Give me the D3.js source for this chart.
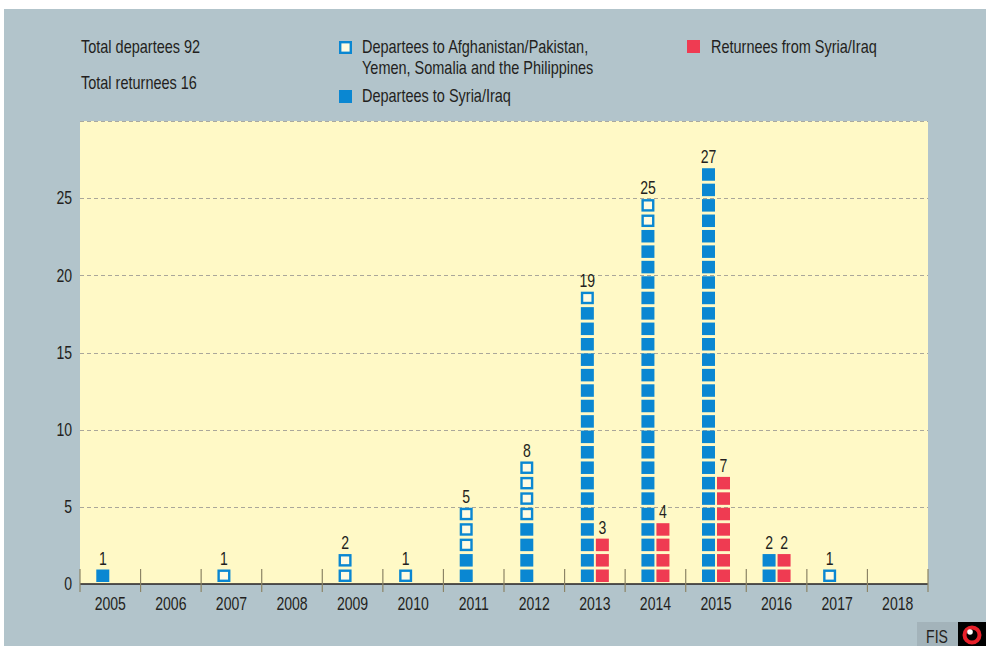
<!DOCTYPE html>
<html>
<head>
<meta charset="utf-8">
<script src="https://cdn.jsdelivr.net/npm/d3@7"></script>
<style>
  html, body { margin: 0; padding: 0; background: #ffffff; }
  svg { display: block; }
  text { font-family: "Liberation Sans", Arial, sans-serif; fill: #231f20; }
</style>
</head>
<body>
<svg id="chart" width="986" height="646"></svg>
<script>
// ---- data ----
const years = ["2005","2006","2007","2008","2009","2010","2011","2012","2013","2014","2015","2016","2017","2018"];
const syriaIraq   = [1, 0, 0, 0, 0, 0, 2, 4, 18, 23, 27, 2, 0, 0];   // filled blue
const otherAreas  = [0, 0, 1, 0, 2, 1, 3, 4, 1, 2, 0, 0, 1, 0];      // hollow blue
const returnees   = [0, 0, 0, 0, 0, 0, 0, 0, 3, 4, 7, 2, 0, 0];      // red
const yTicks = [0, 5, 10, 15, 20, 25];
const totalDepartees = 92;
const totalReturnees = 16;
const legendOther = ["Departees to Afghanistan/Pakistan,", "Yemen, Somalia and the Philippines"];
const legendSyria = "Departees to Syria/Iraq";
const legendRet = "Returnees from Syria/Iraq";

// ---- layout ----
const W = 986, H = 646;
const plot = { left: 80, right: 928, top: 121, bottom: 584 };
const blue = "#0a87d2", red = "#ef3b52", yellow = "#fff9c6", bg = "#b2c4cb";
const FS = 18, SX = 0.78, SXW = 0.805; // condensed look

const svg = d3.select("#chart");
svg.append("rect").attr("x", 0).attr("y", 0).attr("width", W).attr("height", H).attr("fill", "#ffffff");
svg.append("rect").attr("x", 4).attr("y", 9).attr("width", W - 4).attr("height", H - 9).attr("fill", bg);

function txt(parent, x, y, s, anchor, sx) {
  return parent.append("text")
    .attr("transform", `translate(${x},${y}) scale(${sx || SX},1)`)
    .attr("font-size", FS)
    .attr("text-anchor", anchor || "start")
    .text(s);
}

const x = d3.scaleBand().domain(years).range([plot.left, plot.right]).padding(0);
const y = d3.scaleLinear().domain([0, 30]).range([plot.bottom, plot.top]);

// plot background
svg.append("rect").attr("x", plot.left).attr("y", plot.top)
  .attr("width", plot.right - plot.left).attr("height", plot.bottom - plot.top)
  .attr("fill", yellow);
svg.append("line").attr("x1", plot.left).attr("x2", plot.right)
  .attr("y1", plot.top + 0.5).attr("y2", plot.top + 0.5)
  .attr("stroke", "#a9a9a0").attr("stroke-dasharray", "4,3");

// grid lines
svg.append("g").selectAll("line").data(yTicks.filter(d => d > 0)).join("line")
  .attr("x1", plot.left).attr("x2", plot.right)
  .attr("y1", d => Math.round(y(d)) + 0.5).attr("y2", d => Math.round(y(d)) + 0.5)
  .attr("stroke", "#aaa79a").attr("stroke-dasharray", "4,3").attr("stroke-width", 1);

// y axis labels
const yAxis = d3.axisLeft(y).tickValues(yTicks).tickSize(0).tickPadding(8);
const yg = svg.append("g").attr("transform", `translate(${plot.left},0)`).call(yAxis);
yg.select(".domain").remove();
yg.selectAll("text").attr("font-size", FS).style("font-family", null).attr("fill", "#231f20")
  .attr("x", -8 / SX).attr("transform", `scale(${SX},1)`);

// squares
const sqW = 13, sqH = 12.5;
const cells = [];
years.forEach((yr, i) => {
  const c = x(yr) + x.bandwidth() / 2;
  let k = 0;
  for (let j = 0; j < syriaIraq[i]; j++, k++) cells.push({ yr, k, type: "syria", cx: c });
  for (let j = 0; j < otherAreas[i]; j++, k++) cells.push({ yr, k, type: "other", cx: c });
  for (let j = 0; j < returnees[i]; j++) cells.push({ yr, k: j, type: "ret", cx: c });
});
const sw = 2.4;
svg.append("g").selectAll("rect").data(cells).join("rect")
  .attr("x", d => (d.type === "ret" ? d.cx + 1 : d.cx - 14) + (d.type === "other" ? sw / 2 : 0))
  .attr("y", d => y(d.k) - 2 - sqH + (d.type === "other" ? sw / 2 : 0))
  .attr("width", d => d.type === "other" ? sqW - sw : sqW)
  .attr("height", d => d.type === "other" ? sqH - sw : sqH)
  .attr("fill", d => d.type === "other" ? "#fffbe2" : (d.type === "ret" ? red : blue))
  .attr("stroke", d => d.type === "other" ? blue : "none")
  .attr("stroke-width", sw);

// value labels
const valLabels = [];
years.forEach((yr, i) => {
  const c = x(yr) + x.bandwidth() / 2;
  const dep = syriaIraq[i] + otherAreas[i];
  if (dep > 0) valLabels.push({ v: dep, x: c - 7.5 });
  if (returnees[i] > 0) valLabels.push({ v: returnees[i], x: c + 7.5 });
});
const vg = svg.append("g");
valLabels.forEach(d => txt(vg, d.x, y(d.v) - 4, d.v, "middle"));

// x axis
svg.append("line").attr("x1", plot.left).attr("x2", plot.right)
  .attr("y1", plot.bottom).attr("y2", plot.bottom)
  .attr("stroke", "#231f20").attr("stroke-width", 1.6);
const bounds = years.map(yr => x(yr)).concat([plot.right]);
svg.append("g").selectAll("line").data(bounds).join("line")
  .attr("x1", d => d).attr("x2", d => d)
  .attr("y1", plot.bottom - 15).attr("y2", plot.bottom + 8)
  .attr("stroke", "#8c8465").attr("stroke-width", 1.2);
const xAxis = d3.axisBottom(x).tickSize(0).tickPadding(13);
const xg = svg.append("g").attr("transform", `translate(0,${plot.bottom})`).call(xAxis);
xg.select(".domain").remove();
xg.selectAll("text").attr("font-size", FS).style("font-family", null).attr("fill", "#231f20")
  .attr("transform", `scale(${SX},1)`);

// header texts
txt(svg, 81, 53, "Total departees " + totalDepartees, "start", SXW);
txt(svg, 81, 89, "Total returnees " + totalReturnees, "start", SXW);

// legend
svg.append("rect").attr("x", 339 + sw / 2).attr("y", 41 + sw / 2).attr("width", 13 - sw).attr("height", 13 - sw)
  .attr("fill", "#fffbe2").attr("stroke", blue).attr("stroke-width", sw);
txt(svg, 362, 53, legendOther[0], "start", SXW);
txt(svg, 362, 74, legendOther[1], "start", SXW);
svg.append("rect").attr("x", 339).attr("y", 90).attr("width", 13).attr("height", 13).attr("fill", blue);
txt(svg, 362, 102, legendSyria, "start", SXW);
svg.append("rect").attr("x", 687).attr("y", 40).attr("width", 13).attr("height", 13).attr("fill", red);
txt(svg, 711, 53, legendRet, "start", SXW);

// FIS logo
svg.append("rect").attr("x", 917).attr("y", 622).attr("width", 41).attr("height", 24).attr("fill", "#a3b3ba");
txt(svg, 937, 643, "FIS", "middle");
svg.append("rect").attr("x", 958).attr("y", 622).attr("width", 28).attr("height", 24).attr("fill", "#000");
svg.append("circle").attr("cx", 972).attr("cy", 635).attr("r", 7.5).attr("fill", "none").attr("stroke", "#e8202a").attr("stroke-width", 4);
svg.append("circle").attr("cx", 970).attr("cy", 632).attr("r", 2.8).attr("fill", "#fff");
</script>
</body>
</html>
